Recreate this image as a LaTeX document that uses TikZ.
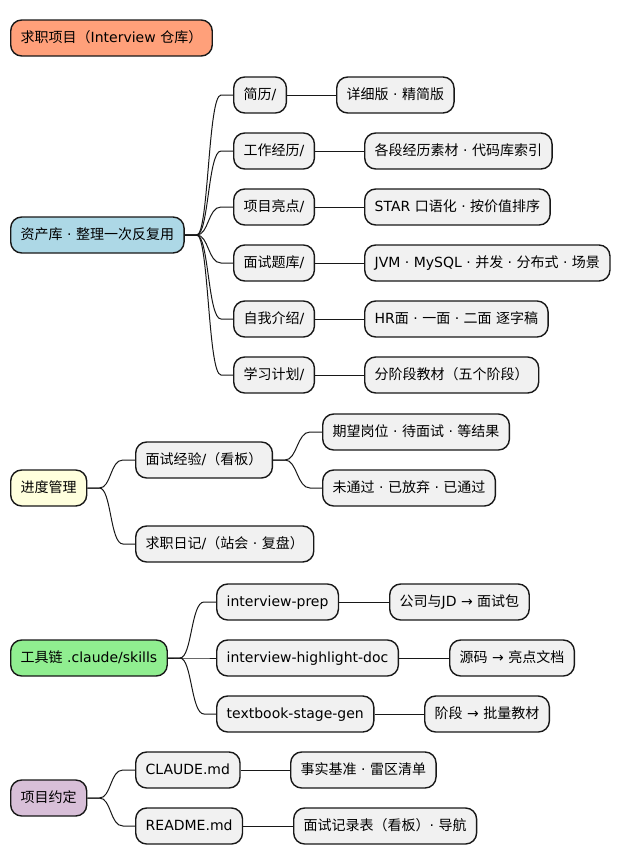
\documentclass[tikz,border=0pt]{standalone}
\usepackage{fontspec}
\setmainfont{DejaVu Sans}
\newfontfamily\cjk{Noto Sans CJK SC}
\newcommand\zh[1]{{\cjk #1}}
\usetikzlibrary{calc}
\definecolor{rootc}{HTML}{FFA07A}
\definecolor{bluec}{HTML}{ADD8E6}
\definecolor{yelc}{HTML}{FFFFDD}
\definecolor{greenc}{HTML}{90EE90}
\definecolor{purc}{HTML}{D8BFD8}
\definecolor{greyc}{HTML}{F1F1F1}
\definecolor{linec}{HTML}{181818}
\tikzset{
  box/.style={draw=linec, line width=1.4bp, rounded corners=11bp, fill=greyc,
    font=\fontsize{14bp}{16bp}\selectfont, inner xsep=10bp, inner ysep=0bp,
    text height=11bp, text depth=3bp, minimum height=36bp, anchor=west},
  conn/.style={draw=linec, line width=1bp},
}
\newcommand\curve[2]{\draw[conn] (#1.east) -- ++(12,0) .. controls +(12,0) and +(-13,0) .. ($(#2.west)+(-12,0)$) -- (#2.west);}
\newcommand\straight[2]{\draw[conn] (#1.east) -- (#2.west);}
\begin{document}
\begin{tikzpicture}[x=1bp,y=-1bp]
\useasboundingbox (0,0) rectangle (629,864);
% root
\node[box, fill=rootc] (root) at (10,38) {\zh{求职项目（}Interview \zh{仓库）}};
% assets
\node[box, fill=bluec] (assets) at (10,235) {\zh{资产库} · \zh{整理一次反复用}};
\node[box] (a1) at (233,95) {\zh{简历}/};
\node[box] (a2) at (233,151) {\zh{工作经历}/};
\node[box] (a3) at (233,207) {\zh{项目亮点}/};
\node[box] (a4) at (233,263) {\zh{面试题库}/};
\node[box] (a5) at (233,319) {\zh{自我介绍}/};
\node[box] (a6) at (233,375) {\zh{学习计划}/};
\node[box] (a1x) at (336,95) {\zh{详细版} · \zh{精简版}};
\node[box] (a2x) at (364,151) {\zh{各段经历素材} · \zh{代码库索引}};
\node[box] (a3x) at (364,207) {STAR \zh{口语化} · \zh{按价值排序}};
\node[box] (a4x) at (364,263) {JVM · MySQL · \zh{并发} · \zh{分布式} · \zh{场景}};
\node[box] (a5x) at (364,319) {HR\zh{面} · \zh{一面} · \zh{二面} \zh{逐字稿}};
\node[box] (a6x) at (364,375) {\zh{分阶段教材（五个阶段）}};
\foreach \c in {a1,a2,a3,a4,a5,a6} {\curve{assets}{\c}}
\foreach \c in {a1,a2,a3,a4,a5,a6} {\straight{\c}{\c x}}
% progress
\node[box, fill=yelc] (prog) at (10,488) {\zh{进度管理}};
\node[box] (p1) at (135,460) {\zh{面试经验}/\zh{（看板）}};
\node[box] (p2) at (135,544) {\zh{求职日记}/\zh{（站会} · \zh{复盘）}};
\node[box] (p1a) at (322,432) {\zh{期望岗位} · \zh{待面试} · \zh{等结果}};
\node[box] (p1b) at (322,488) {\zh{未通过} · \zh{已放弃} · \zh{已通过}};
\curve{prog}{p1}
\curve{prog}{p2}
\curve{p1}{p1a}
\curve{p1}{p1b}
% tools
\node[box, fill=greenc] (tools) at (10,658) {\zh{工具链} .claude/skills};
\node[box] (t1) at (216,602) {interview-prep};
\node[box] (t2) at (216,658) {interview-highlight-doc};
\node[box] (t3) at (216,714) {textbook-stage-gen};
\node[box] (t1x) at (389,602) {\zh{公司与}JD → \zh{面试包}};
\node[box] (t2x) at (449,658) {\zh{源码} → \zh{亮点文档}};
\node[box] (t3x) at (424,714) {\zh{阶段} → \zh{批量教材}};
\foreach \c in {t1,t2,t3} {\curve{tools}{\c}}
\foreach \c in {t1,t2,t3} {\straight{\c}{\c x}}
% conventions
\node[box, fill=purc] (conv) at (10,798) {\zh{项目约定}};
\node[box] (c1) at (135,770) {CLAUDE.md};
\node[box] (c2) at (135,826) {README.md};
\node[box] (c1x) at (290,770) {\zh{事实基准} · \zh{雷区清单}};
\node[box] (c2x) at (293,826) {\zh{面试记录表（看板）}· \zh{导航}};
\curve{conv}{c1}
\curve{conv}{c2}
\straight{c1}{c1x}
\straight{c2}{c2x}
\end{tikzpicture}
\end{document}
